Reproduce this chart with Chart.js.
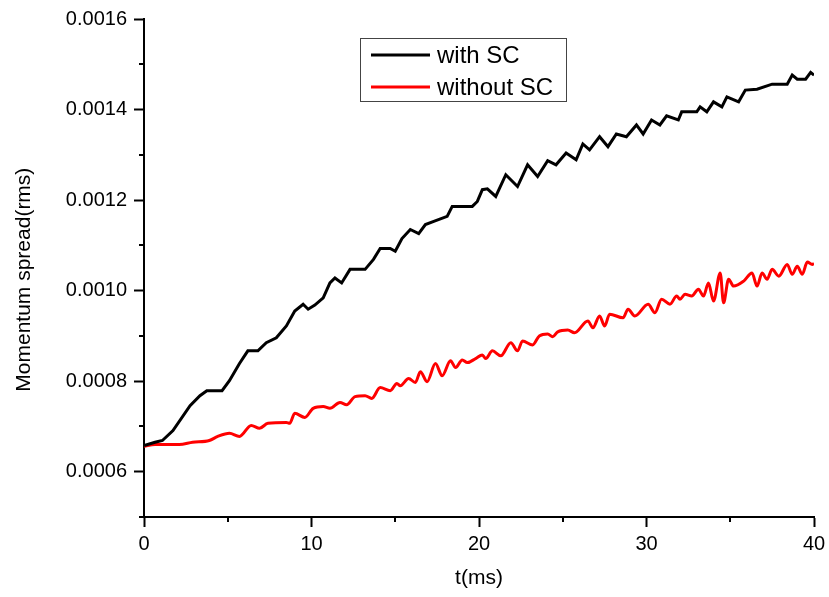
<!DOCTYPE html>
<html>
<head>
<meta charset="utf-8">
<script src="https://cdn.jsdelivr.net/npm/chart.js@4"></script>
<style>
html,body{margin:0;padding:0;background:#fff;}
#wrap{width:829px;height:597px;}
</style>
</head>
<body>
<div id="wrap"><canvas id="c" width="829" height="597"></canvas></div>
<script>
// ---- data ----
const seriesLabels = ['with SC', 'without SC'];

const tWith = [0,0.66,1.1,1.73,2.75,3.34,3.75,4.66,5.1,5.7,6.2,6.8,7.3,7.9,8.5,9.0,9.5,9.8,10.2,10.7,11.1,11.4,11.8,12.3,13.2,13.7,14.1,14.7,15.0,15.4,15.9,16.4,16.8,17.3,18.1,18.4,19.6,19.9,20.2,20.5,21.0,21.6,22.3,22.9,23.5,24.1,24.6,25.2,25.8,26.2,26.6,27.2,27.7,28.2,28.8,29.4,29.8,30.3,30.8,31.2,31.9,32.1,33.0,33.2,33.6,34.0,34.5,34.8,35.5,35.9,36.6,37.5,38.4,38.7,39.0,39.5,39.8,40.0];
const vWith = [0.000658,0.000665,0.000669,0.000691,0.000746,0.000768,0.000779,0.000779,0.000801,0.000839,0.000867,0.000867,0.000885,0.000896,0.000922,0.000955,0.000970,0.000959,0.000968,0.000984,0.001017,0.001028,0.001017,0.001047,0.001047,0.001069,0.001093,0.001093,0.001087,0.001115,0.001135,0.001126,0.001146,0.001153,0.001164,0.001186,0.001186,0.001197,0.001223,0.001225,0.001208,0.001256,0.001230,0.001278,0.001252,0.001287,0.001278,0.001304,0.001289,0.001324,0.001311,0.001340,0.001318,0.001346,0.001340,0.001366,0.001346,0.001377,0.001366,0.001386,0.001377,0.001395,0.001395,0.001406,0.001395,0.001417,0.001406,0.001428,0.001417,0.001443,0.001445,0.001456,0.001456,0.001476,0.001467,0.001467,0.001482,0.001476];

const tWithout = [0,0.66,2.1,2.9,3.9,4.4,5.1,5.7,6.4,6.9,7.4,8.5,8.7,9.0,9.6,10.1,10.7,11.1,11.7,12.1,12.6,13.2,13.6,14.1,14.7,15.1,15.3,15.8,16.2,16.5,16.9,17.4,17.8,18.3,18.6,19.0,19.3,19.8,20.2,20.4,20.8,21.3,21.9,22.3,22.6,23.2,23.6,24.1,24.4,24.7,25.3,25.7,26.5,26.8,27.2,27.5,27.8,28.6,28.9,29.3,30.1,30.5,30.9,31.4,31.8,32.0,32.3,32.7,33.1,33.4,33.7,34.0,34.4,34.6,34.9,35.2,35.8,36.3,36.6,36.9,37.2,37.5,37.9,38.4,38.7,39.0,39.3,39.6,39.9,40.0];
const vWithout = [0.000656,0.000660,0.000660,0.000665,0.000669,0.000678,0.000685,0.000678,0.000702,0.000696,0.000707,0.000709,0.000707,0.000729,0.000720,0.000740,0.000744,0.000740,0.000753,0.000748,0.000766,0.000768,0.000762,0.000786,0.000779,0.000795,0.000790,0.000806,0.000797,0.000821,0.000799,0.000839,0.000812,0.000845,0.000830,0.000847,0.000841,0.000850,0.000858,0.000850,0.000867,0.000856,0.000885,0.000867,0.000889,0.000880,0.000900,0.000904,0.000898,0.000909,0.000913,0.000907,0.000933,0.000918,0.000944,0.000922,0.000948,0.000940,0.000959,0.000944,0.000970,0.000951,0.000981,0.000970,0.000988,0.000981,0.000992,0.000988,0.001003,0.000988,0.001017,0.000977,0.001039,0.000973,0.001025,0.001010,0.001021,0.001039,0.001010,0.001039,0.001025,0.001047,0.001032,0.001058,0.001036,0.001054,0.001036,0.001063,0.001058,0.001060];

const xTickLabels = ['0','10','20','30','40'];
const yTickLabels = ['0.0006','0.0008','0.0010','0.0012','0.0014','0.0016'];

// ---- chart ----
const FONT = "'Liberation Sans', Arial, sans-serif";
const toXY = (ts, vs) => ts.map((t, i) => ({x: t, y: vs[i]}));

const isMajorX = v => Math.abs(v / 10 - Math.round(v / 10)) < 1e-6;
const isMajorY = v => Math.round(v * 10000) % 2 === 0;

const minorTicks = {
  id: 'minorTicks',
  afterDraw(chart) {
    const ctx = chart.ctx;
    const xs = chart.scales.x, ys = chart.scales.y;
    const a = chart.chartArea;
    ctx.save();
    ctx.strokeStyle = '#000';
    ctx.lineWidth = 2;
    xs.ticks.forEach(t => {
      if (!isMajorX(t.value)) {
        const px = Math.round(xs.getPixelForValue(t.value));
        ctx.beginPath(); ctx.moveTo(px, a.bottom); ctx.lineTo(px, a.bottom + 5); ctx.stroke();
      }
    });
    ys.ticks.forEach(t => {
      if (!isMajorY(t.value)) {
        const py = Math.round(ys.getPixelForValue(t.value));
        ctx.beginPath(); ctx.moveTo(a.left, py); ctx.lineTo(a.left - 5, py); ctx.stroke();
      }
    });
    ctx.restore();
  }
};

const boxLegend = {
  id: 'boxLegend',
  afterDraw(chart) {
    const ctx = chart.ctx;
    ctx.save();
    ctx.fillStyle = '#fff';
    ctx.fillRect(360, 38, 206, 63);
    ctx.strokeStyle = '#444';
    ctx.lineWidth = 1;
    ctx.strokeRect(360.5, 38.5, 206, 63);
    const rows = [55, 87];
    chart.data.datasets.forEach((ds, i) => {
      const y = rows[i];
      ctx.strokeStyle = ds.borderColor;
      ctx.lineWidth = 3;
      ctx.beginPath(); ctx.moveTo(371, y); ctx.lineTo(430, y); ctx.stroke();
      ctx.fillStyle = '#000';
      ctx.font = '24px ' + FONT;
      ctx.textBaseline = 'middle';
      ctx.textAlign = 'left';
      ctx.fillText(ds.label, 437, y + 1);
    });
    ctx.restore();
  }
};

new Chart(document.getElementById('c'), {
  type: 'line',
  data: {
    datasets: [
      {label: seriesLabels[0], data: toXY(tWith, vWith), borderColor: '#000000', borderWidth: 3, pointRadius: 0, tension: 0, fill: false},
      {label: seriesLabels[1], data: toXY(tWithout, vWithout), borderColor: '#ff0000', borderWidth: 3, pointRadius: 0, cubicInterpolationMode: 'monotone', fill: false}
    ]
  },
  options: {
    responsive: false,
    animation: false,
    layout: {padding: {top: 18, right: 15, left: 0, bottom: 0}},
    plugins: {legend: {display: false}, tooltip: {enabled: false}},
    scales: {
      x: {
        type: 'linear', min: 0, max: 40,
        afterFit: s => { s.height = 80; s.paddingRight = 0; },
        border: {display: true, color: '#000', width: 2},
        grid: {display: true, drawOnChartArea: false, drawTicks: true, tickLength: 10, tickWidth: 2,
               tickColor: c => isMajorX(c.tick.value) ? '#000' : 'rgba(0,0,0,0)'},
        ticks: {stepSize: 5, color: '#000', padding: 5, maxRotation: 0, autoSkip: false,
                font: {family: FONT, size: 20},
                callback: v => isMajorX(v) ? xTickLabels[Math.round(v / 10)] : ''},
        title: {display: true, text: 't(ms)', color: '#000', font: {family: FONT, size: 21}, padding: {top: 0, bottom: 6}}
      },
      y: {
        type: 'linear', min: 0.0005, max: 0.0016,
        afterFit: s => { s.width = 144; },
        border: {display: true, color: '#000', width: 2},
        grid: {display: true, drawOnChartArea: false, drawTicks: true, tickLength: 10, tickWidth: 2,
               tickColor: c => isMajorY(c.tick.value) ? '#000' : 'rgba(0,0,0,0)'},
        ticks: {stepSize: 0.0001, color: '#000', padding: 7, autoSkip: false,
                font: {family: FONT, size: 20},
                callback: v => isMajorY(v) ? yTickLabels[Math.round((v - 0.0006) / 0.0002)] : ''},
        title: {display: true, text: 'Momentum spread(rms)    ', color: '#000', font: {family: FONT, size: 21}, padding: {top: 12, bottom: 0}}
      }
    }
  },
  plugins: [minorTicks, boxLegend]
});
</script>
</body>
</html>
